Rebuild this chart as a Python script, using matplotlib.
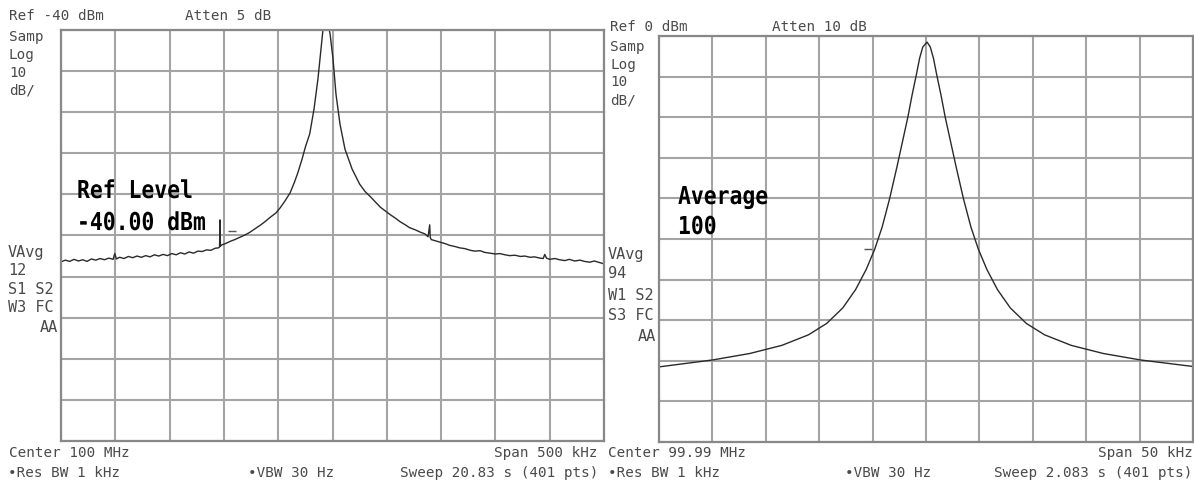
import matplotlib
matplotlib.use("Agg")
import matplotlib.pyplot as plt
import numpy as np
from matplotlib.textpath import TextPath
from matplotlib.font_manager import FontProperties
from matplotlib.patches import PathPatch
import matplotlib.transforms as mtransforms

W, H = 1194, 489

# ---- Left trace: offset from 100 MHz (kHz), level (dBm) ----
left_khz = [-250, -246, -242, -238, -234, -230, -226, -222, -218, -214, -210, -206, -202, -200.5,
            -199, -196, -192, -188, -184, -180, -176, -172, -168, -164, -160, -156, -152, -148,
            -144, -140, -136, -132, -128, -124, -120, -116, -112, -108, -105, -104, -103.6,
            -103.2, -102, -98, -94, -90, -85, -80, -76, -71, -66, -62, -57, -52, -48, -44, -39,
            -35, -32, -28, -25, -21, -17, -13.4, -10.6, -9, -7.5, -5, -3.5, -2.3, 0.5, 3.2, 6.9,
            11.5, 18, 25, 30, 35, 40, 44, 48, 53, 58, 62, 67, 71, 76, 81, 85, 88, 89.5, 90, 91,
            95, 99, 104, 108, 113, 117, 122, 127, 131, 136, 140, 145, 150, 154, 159, 163, 168,
            173, 177, 182, 186, 191, 194, 195.5, 197, 200, 205, 209, 214, 218, 223, 228, 232,
            237, 241, 246, 250]
left_dbm = [-96.4, -96.0, -96.3, -95.8, -96.2, -95.9, -96.3, -95.7, -96.0, -95.6, -95.9, -95.5, -95.8,
            -94.4, -95.7, -95.3, -95.6, -95.1, -95.4, -95.0, -95.3, -94.9, -95.2, -94.7, -95.0,
            -94.6, -94.9, -94.4, -94.7, -94.2, -94.5, -94.0, -94.3, -93.8, -93.9, -93.5, -93.6,
            -93.1, -93.0, -92.8, -86.2, -92.6, -92.3, -91.9, -91.4, -91.0, -90.4, -89.8, -89.2,
            -88.3, -87.4, -86.6, -85.5, -84.5, -83.2, -81.7, -79.6, -77.0, -74.8, -71.4, -68.5,
            -65.3, -59.2, -51.9, -44.6, -40.5, -37.0, -37.0, -39.5, -40.8, -47.1, -55.6, -62.9,
            -69.0, -73.8, -77.5, -79.3, -80.6, -82.0, -83.1, -83.9, -84.9, -85.8, -86.6, -87.4,
            -88.1, -88.6, -89.2, -89.6, -90.3, -87.4, -90.5, -91.0, -91.3, -91.6, -92.0, -92.4,
            -92.7, -93.0, -93.2, -93.6, -93.8, -93.7, -94.1, -94.3, -94.5, -94.4, -94.7, -94.9,
            -94.8, -95.1, -95.0, -95.3, -95.2, -95.5, -95.6, -94.6, -95.5, -95.8, -95.6, -95.9,
            -96.1, -95.8, -96.2, -96.0, -96.3, -96.5, -96.2, -96.6, -96.9]

# ---- Right trace: offset from 99.99 MHz (kHz), level (dBm) ----
right_khz = [-25, -20, -16.5, -13.5, -11, -9.3, -7.8, -6.6, -5.6, -4.8, -4.1, -3.4, -2.7, -2.2,
             -1.7, -1.3, -0.9, -0.6, -0.3, 0.1, 0.4, 0.7, 1.0, 1.4, 1.8, 2.3, 2.8, 3.5, 4.2,
             4.9, 5.7, 6.7, 7.9, 9.4, 11.1, 13.6, 16.6, 20.1, 25]
right_dbm = [-81.5, -79.8, -78.2, -76.2, -73.6, -70.8, -67.0, -62.5, -57.5, -52.5, -47.0, -40.0,
             -32.0, -26.0, -20.0, -14.5, -9.5, -5.5, -2.7, -1.5, -2.7, -5.5, -9.5, -14.5,
             -20.0, -26.0, -32.0, -40.0, -47.0, -52.5, -57.5, -62.5, -67.0, -70.8, -73.6,
             -76.2, -78.2, -79.8, -81.4]

# small trace marker ticks (freq kHz, dBm)
left_marker = (-92.5, -88.9)
right_marker = (-5.4, -52.5)

left_xlim, left_ylim = (-250, 250), (-140, -40)
right_xlim, right_ylim = (-25, 25), (-100, 0)

fig = plt.figure(figsize=(W / 100, H / 100), dpi=100)
fig.patch.set_facecolor("white")


def add_panel(x0, y0, x1, y1, xlim, ylim, xs, ys, marker):
    ax = fig.add_axes([x0 / W, 1 - y1 / H, (x1 - x0) / W, (y1 - y0) / H])
    ax.set_xlim(*xlim)
    ax.set_ylim(*ylim)
    ax.set_xticks(np.linspace(xlim[0], xlim[1], 11))
    ax.set_yticks(np.linspace(ylim[0], ylim[1], 11))
    ax.grid(True, color="#a4a4a4", linewidth=1.5)
    ax.tick_params(length=0, labelbottom=False, labelleft=False)
    for s in ax.spines.values():
        s.set_color("#888888")
        s.set_linewidth(1.6)
    ax.plot(xs, ys, color="#2a2a2a", linewidth=1.0)
    ax.plot([marker[0]], [marker[1]], marker="_", markersize=6, color="#555555",
            markeredgewidth=1.0, linestyle="none")
    return ax


axL = add_panel(61, 31, 604, 442, left_xlim, left_ylim, left_khz, left_dbm, left_marker)
axR = add_panel(659, 37, 1193, 443, right_xlim, right_ylim, right_khz, right_dbm, right_marker)

mono = "DejaVu Sans Mono"


def t(x, y, s, ha="left", size=10.3):
    fig.text(x / W, 1 - y / H, s, ha=ha, va="center", family=mono, fontsize=size,
             color="#4a4a4a")


# Left panel annotations
t(9, 16, "Ref -40 dBm")
t(185, 16, "Atten 5 dB")
for i, s in enumerate(["Samp", "Log", "10", "dB/"]):
    t(9, 37 + 18 * i, s)
for i, s in enumerate(["VAvg", "12", "S1 S2", "W3 FC"]):
    t(8, 252 + 18.5 * i, s, size=11)
t(58, 327, "AA", ha="right", size=11)
t(9, 453, "Center 100 MHz")
t(598, 453, "Span 500 kHz", ha="right")
t(8, 473, "\u2022Res BW 1 kHz")
t(248, 473, "\u2022VBW 30 Hz")
t(598, 473, "Sweep 20.83 s (401 pts)", ha="right")

# Right panel annotations
t(610, 27, "Ref 0 dBm")
t(772, 27, "Atten 10 dB")
for i, s in enumerate(["Samp", "Log", "10", "dB/"]):
    t(610, 47 + 17.7 * i, s)
t(608, 254, "VAvg", size=11)
t(608, 273, "94", size=11)
t(608, 296, "W1 S2", size=11)
t(608, 316, "S3 FC", size=11)
t(656, 337, "AA", ha="right", size=11)
t(608, 453, "Center 99.99 MHz")
t(1193, 453, "Span 50 kHz", ha="right")
t(608, 473, "\u2022Res BW 1 kHz")
t(845, 473, "\u2022VBW 30 Hz")
t(1192, 473, "Sweep 2.083 s (401 pts)", ha="right")

# Large overlay labels: condensed tall monospace drawn as text paths
fp_big = FontProperties(family=mono, weight="bold")


def big(x, baseline, s, sx=21.4, sy=24.7):
    tp = TextPath((0, 0), s, size=1, prop=fp_big)
    tr = mtransforms.Affine2D().scale(sx, sy).translate(x, H - baseline)
    patch = PathPatch(tr.transform_path(tp), facecolor="black", edgecolor="none",
                      transform=mtransforms.IdentityTransform())
    fig.add_artist(patch)


big(77, 199, "Ref Level")
big(77, 231, "-40.00 dBm")
big(678, 205, "Average")
big(678, 235, "100")

fig.savefig("out.png", dpi=100, facecolor="white")
